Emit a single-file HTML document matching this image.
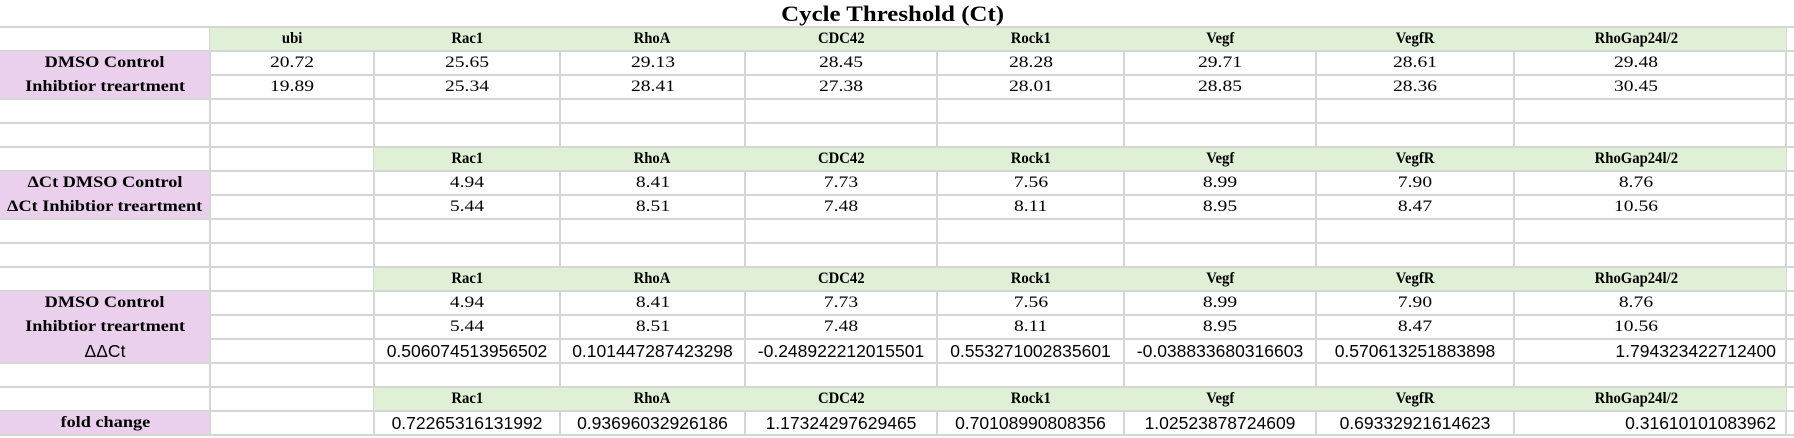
<!DOCTYPE html>
<html><head><meta charset="utf-8">
<style>
html,body{margin:0;padding:0;background:#fff;}
#sheet{position:relative;width:1794px;height:438px;overflow:hidden;background:#fff;}
.hl{position:absolute;height:2px;background:#d6d6d6;}
.vl{position:absolute;width:2px;background:#d6d6d6;}
.fill{position:absolute;}
.t{position:absolute;height:24px;line-height:24px;white-space:nowrap;color:#000;}
.t span{display:inline-block;}
.serif{font-family:"Liberation Serif",serif;font-size:16px;}
.serif span{transform:scaleX(1.22);transform-origin:center;}
.hdr{font-family:"Liberation Serif",serif;font-size:16px;font-weight:bold;}
.hdr span{transform:scaleX(0.92);transform-origin:center;}
.lbl{font-family:"Liberation Serif",serif;font-size:16px;font-weight:bold;}
.lbl span{transform:scaleX(1.14);transform-origin:center;}
.sans{font-family:"Liberation Sans",sans-serif;font-size:17.5px;}
.right span{transform-origin:right center;}
#title{position:absolute;left:0;width:1786px;top:0;height:27px;line-height:27px;text-align:center;font-family:"Liberation Serif",serif;font-weight:bold;font-size:22px;}
#title span{display:inline-block;transform:scaleX(1.13);}
</style></head>
<body>
<div id="sheet">
<div id="title"><span>Cycle Threshold (Ct)</span></div>
</div>
<script>
const genes = ["Rac1","RhoA","CDC42","Rock1","Vegf","VegfR","RhoGap24l/2"];
const ctDmso = ["20.72","25.65","29.13","28.45","28.28","29.71","28.61","29.48"];
const ctInh = ["19.89","25.34","28.41","27.38","28.01","28.85","28.36","30.45"];
const dCtDmso = ["4.94","8.41","7.73","7.56","8.99","7.90","8.76"];
const dCtInh = ["5.44","8.51","7.48","8.11","8.95","8.47","10.56"];
const ddCt = ["0.506074513956502","0.101447287423298","-0.248922212015501","0.553271002835601","-0.038833680316603","0.570613251883898","1.794323422712400"];
const fold = ["0.72265316131992","0.93696032926186","1.17324297629465","0.70108990808356","1.02523878724609","0.69332921614623","0.31610101083962"];

const sheet = document.getElementById('sheet');
const colX = [0,210,374,560,745,937,1124,1316,1514,1786];
const top0 = 27, rh = 24, nRows = 17;
function rowY(r){ return top0 + r*rh; }

for(let r=0;r<=nRows;r++){
  const d=document.createElement('div');
  d.className='hl';
  
  
  d.style.left='0px'; d.style.width='1794px'; d.style.top=(rowY(r)-1)+'px';
  sheet.appendChild(d);
}
for(let c=1;c<colX.length;c++){
  const d=document.createElement('div');
  d.className='vl';
  
  
  d.style.left=(colX[c]-1)+'px'; d.style.top=top0+'px'; d.style.height=(rowY(nRows)-top0)+'px';
  sheet.appendChild(d);
}
function fillRect(x1,x2,r1,r2,color,name){
  const d=document.createElement('div');
  d.className='fill';
  
  
  d.style.left=x1+'px'; d.style.width=(x2-x1)+'px';
  d.style.top=(rowY(r1)+1)+'px'; d.style.height=(rowY(r2+1)-rowY(r1)-2)+'px';
  d.style.background=color;
  sheet.appendChild(d);
}
const green='#dff0d7', purple='#ead0ec';
fillRect(210,1786,0,0,green,'header-band');
fillRect(374,1786,5,5,green,'header-band');
fillRect(374,1786,10,10,green,'header-band');
fillRect(374,1786,15,15,green,'header-band');
fillRect(0,209,1,2,purple,'label-band');
fillRect(0,209,6,7,purple,'label-band');
fillRect(0,209,11,13,purple,'label-band');
fillRect(0,209,16,16,purple,'label-band');

function text(str,col,row,cls,name,align){
  const d=document.createElement('div');
  d.className='t '+cls+(align==='right'?' right':'');
  
  
  const s=document.createElement('span');
  s.textContent=str;
  d.appendChild(s);
  const x1=colX[col], x2=colX[col+1];
  d.style.top=rowY(row)+'px';
  if(align==='right'){
    d.style.left=x1+'px'; d.style.width=(x2-x1-10)+'px'; d.style.textAlign='right';
  } else if(col===8){
    d.style.left=(1636-150)+'px'; d.style.width='300px'; d.style.textAlign='center';
  } else {
    d.style.left=x1+'px'; d.style.width=(x2-x1)+'px'; d.style.textAlign='center';
  }
  sheet.appendChild(d);
}
text('ubi',1,0,'hdr','column-header');
genes.forEach((g,i)=>text(g,i+2,0,'hdr','column-header'));
text('DMSO Control',0,1,'lbl','row-label');
text('Inhibtior treartment',0,2,'lbl','row-label');
ctDmso.forEach((v,i)=>text(v,i+1,1,'serif','ct-value'));
ctInh.forEach((v,i)=>text(v,i+1,2,'serif','ct-value'));
genes.forEach((g,i)=>text(g,i+2,5,'hdr','column-header'));
text('\u0394Ct DMSO Control',0,6,'lbl','row-label');
text('\u0394Ct Inhibtior treartment',0,7,'lbl','row-label');
dCtDmso.forEach((v,i)=>text(v,i+2,6,'serif','delta-ct-value'));
dCtInh.forEach((v,i)=>text(v,i+2,7,'serif','delta-ct-value'));
genes.forEach((g,i)=>text(g,i+2,10,'hdr','column-header'));
text('DMSO Control',0,11,'lbl','row-label');
text('Inhibtior treartment',0,12,'lbl','row-label');
text('\u0394\u0394Ct',0,13,'sans','row-label');
dCtDmso.forEach((v,i)=>text(v,i+2,11,'serif','delta-ct-value'));
dCtInh.forEach((v,i)=>text(v,i+2,12,'serif','delta-ct-value'));
ddCt.forEach((v,i)=>text(v,i+2,13,'sans','delta-delta-ct-value', i===6?'right':undefined));
genes.forEach((g,i)=>text(g,i+2,15,'hdr','column-header'));
text('fold change',0,16,'lbl','row-label');
fold.forEach((v,i)=>text(v,i+2,16,'sans','fold-change-value', i===6?'right':undefined));
</script>
</body></html>
